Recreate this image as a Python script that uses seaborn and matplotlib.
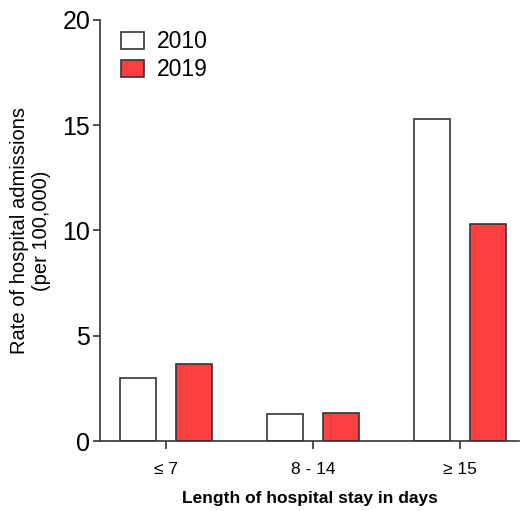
import matplotlib
matplotlib.use("Agg")
import matplotlib.pyplot as plt
import seaborn as sns
import pandas as pd

categories = ["\u2264 7", "8 - 14", "\u2265 15"]
years = ["2010", "2019"]
rate_2010 = [3.0, 1.28, 15.3]
rate_2019 = [3.65, 1.33, 10.3]

df = pd.DataFrame({
    "stay": categories * 2,
    "year": [years[0]] * 3 + [years[1]] * 3,
    "rate": rate_2010 + rate_2019,
})

sns.set_style("ticks")
plt.rcParams["font.family"] = ["Liberation Sans", "DejaVu Sans"]
plt.rcParams["text.color"] = "black"
plt.rcParams["axes.labelcolor"] = "black"
plt.rcParams["xtick.color"] = "#333333"
plt.rcParams["ytick.color"] = "#333333"
plt.rcParams["xtick.labelcolor"] = "black"
plt.rcParams["ytick.labelcolor"] = "black"

fig = plt.figure(figsize=(5.2, 5.11), dpi=100)
ax = fig.add_axes([100 / 520, 1 - 441 / 511, 419 / 520, 421 / 511])

palette = {"2010": "#ffffff", "2019": "#ff4043"}
sns.barplot(data=df, x="stay", y="rate", hue="year", order=categories,
            hue_order=years, palette=palette, saturation=1, width=0.76, gap=0.355,
            edgecolor="#333333", linewidth=1.2, ax=ax, legend=True)

ax.set_ylim(0, 20)
ax.set_yticks([0, 5, 10, 15, 20])
ax.set_xlim(-0.45, 2.4)
ax.tick_params(axis="y", labelsize=18, length=5, width=1.2, pad=2)
ax.tick_params(axis="x", labelsize=12.5, length=6, width=1.2, pad=9)
for s in ["top", "right"]:
    ax.spines[s].set_visible(False)
for s in ["left", "bottom"]:
    ax.spines[s].set_linewidth(1.2)
    ax.spines[s].set_color("#333333")

ax.set_ylabel("Rate of hospital admissions\n(per 100,000)", fontsize=14.5, labelpad=8)
ax.set_xlabel("Length of hospital stay in days", fontsize=12.5, fontweight="bold", labelpad=10)

leg = ax.legend(loc="upper left", bbox_to_anchor=(0.0, 1.025), frameon=False,
                fontsize=16.5, handlelength=1.0, handleheight=0.75,
                handletextpad=0.6, labelspacing=0.22)

fig.savefig("out.png", dpi=100)
